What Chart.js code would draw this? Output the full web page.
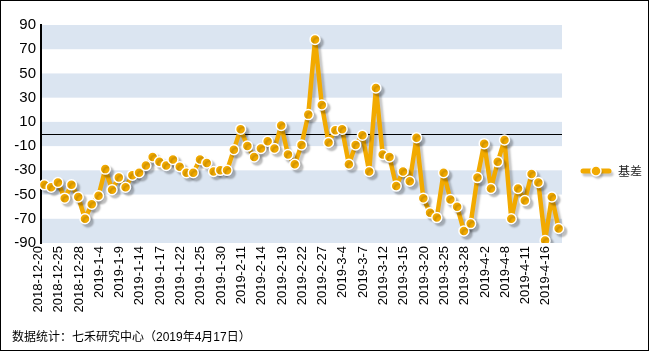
<!DOCTYPE html>
<html><head><meta charset="utf-8">
<script src="https://cdn.jsdelivr.net/npm/chart.js@4/dist/chart.umd.min.js"></script>
<style>html,body{margin:0;padding:0;background:#fff;}#wrap{width:651px;height:355px;}</style>
</head><body><div id="wrap"><canvas id="c" width="651" height="355"></canvas></div>
<script>
const dates = ['2018-12-20','2018-12-21','2018-12-24','2018-12-25','2018-12-26','2018-12-27','2018-12-28',
'2019-1-2','2019-1-3','2019-1-4','2019-1-7','2019-1-8','2019-1-9','2019-1-10','2019-1-11','2019-1-14','2019-1-15','2019-1-16','2019-1-17','2019-1-18','2019-1-21','2019-1-22','2019-1-23','2019-1-24','2019-1-25','2019-1-28','2019-1-29','2019-1-30','2019-1-31','2019-2-1',
'2019-2-11','2019-2-12','2019-2-13','2019-2-14','2019-2-15','2019-2-18','2019-2-19','2019-2-20','2019-2-21','2019-2-22','2019-2-25','2019-2-26','2019-2-27','2019-2-28',
'2019-3-1','2019-3-4','2019-3-5','2019-3-6','2019-3-7','2019-3-8','2019-3-11','2019-3-12','2019-3-13','2019-3-14','2019-3-15','2019-3-18','2019-3-19','2019-3-20','2019-3-21','2019-3-22','2019-3-25','2019-3-26','2019-3-27','2019-3-28','2019-3-29',
'2019-4-1','2019-4-2','2019-4-3','2019-4-4','2019-4-8','2019-4-9','2019-4-10','2019-4-11','2019-4-12','2019-4-15','2019-4-16','2019-4-17'];
const basis = [-42,-44,-40,-53,-42,-52,-70,-58,-51,-29,
-46,-36,-44,-34,-32,-26,-19,-23,-26,-21,
-27,-32,-32,-21,-24,-31,-30,-30,-13,4,
-10,-19,-12,-6,-12,7,-17,-25,-9,16,
78,24,-7,3,4,-25,-9,-1,-31,38,
-17,-19,-43,-31,-39,-3,-53,-65,-69,-32,
-54,-60,-80,-74,-36,-8,-45,-23,-5,-70,
-45,-55,-33,-40,-88,-52,-78];
const yTicks = [90,70,50,30,10,-10,-30,-50,-70,-90];
const seriesName = '基差';
const footnote = '数据统计：七禾研究中心（2019年4月17日）';

const ORANGE = '#f2aa00';
const BAND = '#dbe5f1';
const SHADOW = 'rgba(0,0,0,0.22)';

const deco = {
  id: 'deco',
  beforeDraw(chart) {
    const {ctx, chartArea: a, scales: {y}} = chart;
    ctx.save();
    ctx.fillStyle = BAND;
    for (let i = 0; i + 1 < yTicks.length; i += 2) {
      const t = y.getPixelForValue(yTicks[i]);
      const b = y.getPixelForValue(yTicks[i + 1]);
      ctx.fillRect(a.left, t, a.right - a.left, b - t);
    }
    const z = Math.round(y.getPixelForValue(0)) + 0.5;
    ctx.strokeStyle = '#000';
    ctx.lineWidth = 1;
    ctx.beginPath(); ctx.moveTo(a.left, z); ctx.lineTo(a.right, z); ctx.stroke();
    ctx.restore();
  },
  beforeDatasetDraw(chart) {
    const ctx = chart.ctx;
    ctx.save();
    ctx.shadowColor = SHADOW; ctx.shadowOffsetX = 3; ctx.shadowOffsetY = 3; ctx.shadowBlur = 2;
  },
  afterDatasetDraw(chart) { chart.ctx.restore(); },
  afterDraw(chart) {
    const ctx = chart.ctx;
    ctx.save();
    const ly = 171;
    ctx.shadowColor = SHADOW; ctx.shadowOffsetX = 2; ctx.shadowOffsetY = 3; ctx.shadowBlur = 2;
    ctx.strokeStyle = ORANGE; ctx.lineWidth = 5; ctx.lineCap = 'round';
    ctx.beginPath(); ctx.moveTo(583, ly); ctx.lineTo(609, ly); ctx.stroke();
    ctx.beginPath(); ctx.arc(596, ly, 5, 0, Math.PI * 2);
    ctx.fillStyle = ORANGE; ctx.fill();
    ctx.shadowColor = 'transparent';
    ctx.lineWidth = 1.5; ctx.strokeStyle = '#fff'; ctx.stroke();
    ctx.fillStyle = '#222';
    ctx.font = '12px "Noto Sans CJK SC", sans-serif';
    ctx.textBaseline = 'middle'; ctx.textAlign = 'left';
    ctx.fillText(chart.data.datasets[0].label, 618, ly);
    ctx.fillStyle = '#000';
    ctx.font = '12px "Liberation Sans", "Noto Sans CJK SC", sans-serif';
    ctx.fillText(footnote, 12, 338);
    ctx.strokeStyle = '#000'; ctx.lineWidth = 1;
    ctx.strokeRect(0.5, 0.5, 648, 350);
    ctx.restore();
  }
};

new Chart(document.getElementById('c'), {
  type: 'line',
  data: {
    labels: dates,
    datasets: [{
      label: seriesName,
      data: basis,
      borderColor: ORANGE,
      borderWidth: 4.5,
      borderJoinStyle: 'round',
      borderCapStyle: 'round',
      backgroundColor: ORANGE,
      pointBackgroundColor: ORANGE,
      pointBorderColor: '#fff',
      pointBorderWidth: 1.5,
      pointRadius: 5,
      tension: 0,
      fill: false
    }]
  },
  options: {
    responsive: false,
    devicePixelRatio: 1,
    animation: false,
    events: [],
    layout: { padding: { left: 0, top: 25, right: 89, bottom: 40 } },
    plugins: { legend: { display: false }, tooltip: { enabled: false }, title: { display: false } },
    scales: {
      x: {
        offset: true,
        grid: { display: false, drawTicks: false },
        border: { display: false },
        afterFit(s) { s.height = 72; },
        ticks: {
          autoSkip: false, maxRotation: 90, minRotation: 90, padding: 3, labelOffset: -6,
          color: '#000', font: { family: '"Liberation Sans", Arial, sans-serif', size: 13 },
          callback(v, i) { return i % 3 === 0 ? dates[i] : ''; }
        }
      },
      y: {
        min: -90, max: 90,
        afterBuildTicks(s) { s.ticks = yTicks.map(v => ({ value: v })); },
        afterFit(s) { s.width = 41; },
        grid: { display: false, drawTicks: false },
        border: { display: true, color: '#000', width: 2 },
        ticks: {
          padding: 5, color: '#000',
          font: { family: '"Liberation Sans", Arial, sans-serif', size: 15 }
        }
      }
    }
  },
  plugins: [deco]
});
</script></body></html>
